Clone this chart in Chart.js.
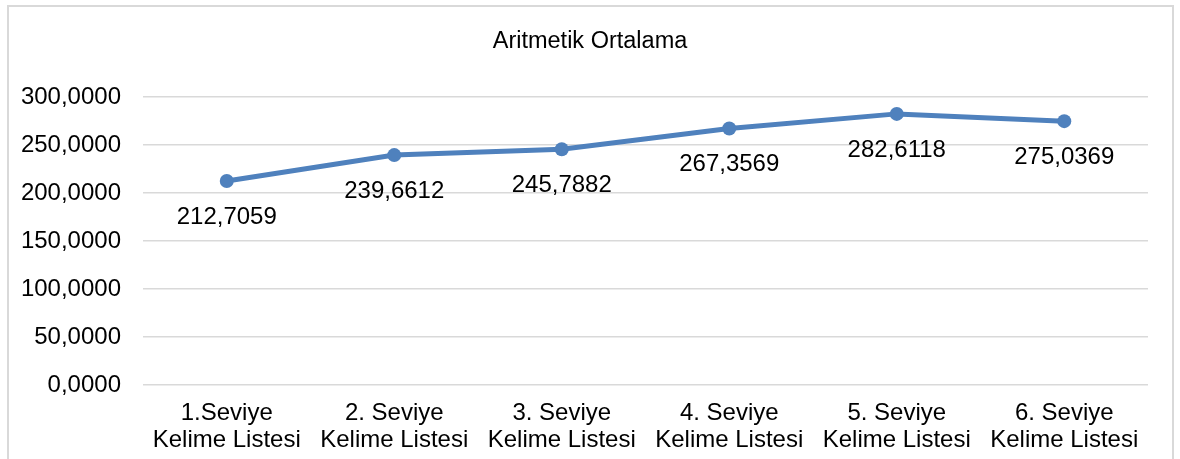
<!DOCTYPE html>
<html>
<head>
<meta charset="utf-8">
<script src="https://cdn.jsdelivr.net/npm/chart.js@4"></script>
<style>
  html, body { margin: 0; padding: 0; background: #fff; }
  #wrap { position: relative; width: 1180px; height: 459px; overflow: hidden; }
  #frame { position: absolute; left: 7px; top: 5px; width: 1167px; height: 470px; border: 2px solid #d9d9d9; box-sizing: border-box; pointer-events: none; }
  canvas { position: absolute; left: 0; top: 0; }
</style>
</head>
<body>
<div id="wrap">
  <canvas id="chart" width="1180" height="459"></canvas>
  <div id="frame"></div>
</div>
<script>
// veri
const categories = [
  ['1.Seviye', 'Kelime Listesi'],
  ['2. Seviye', 'Kelime Listesi'],
  ['3. Seviye', 'Kelime Listesi'],
  ['4. Seviye', 'Kelime Listesi'],
  ['5. Seviye', 'Kelime Listesi'],
  ['6. Seviye', 'Kelime Listesi']
];
const ortalama = [212.7059, 239.6612, 245.7882, 267.3569, 282.6118, 275.0369];
const yTicks = [0, 50, 100, 150, 200, 250, 300];

const FONT = '"Liberation Sans", Arial, sans-serif';
const BLUE = '#4f81bd';

// sayiyi virgullu yaz (212,7059)
function fmt(v) {
  return v.toFixed(4).replace('.', ',');
}

// veri etiketleri, noktanin altinda
const dataLabels = {
  id: 'dataLabels',
  afterDatasetsDraw(chart) {
    const ctx = chart.ctx;
    const meta = chart.getDatasetMeta(0);
    ctx.save();
    ctx.font = '24px ' + FONT;
    ctx.fillStyle = '#000';
    ctx.textAlign = 'center';
    ctx.textBaseline = 'middle';
    meta.data.forEach((pt, i) => {
      ctx.fillText(fmt(ortalama[i]), pt.x, pt.y + 36);
    });
    ctx.restore();
  }
};

new Chart(document.getElementById('chart'), {
  type: 'line',
  data: {
    labels: categories,
    datasets: [{
      label: 'Aritmetik Ortalama',
      data: ortalama,
      borderColor: BLUE,
      backgroundColor: BLUE,
      borderWidth: 5,
      pointRadius: 7,
      pointBackgroundColor: BLUE,
      pointBorderColor: BLUE,
      pointBorderWidth: 0,
      tension: 0
    }]
  },
  options: {
    responsive: false,
    animation: false,
    devicePixelRatio: 1,
    layout: { padding: 0 },
    plugins: {
      legend: { display: false },
      tooltip: { enabled: false },
      title: {
        display: true,
        text: 'Aritmetik Ortalama',
        color: '#000',
        font: { family: FONT, size: 23.5, weight: 'normal' },
        padding: { top: 27, bottom: 42 }
      }
    },
    scales: {
      x: {
        offset: true,
        grid: { display: false, drawTicks: false },
        border: { display: false },
        ticks: {
          color: '#000',
          padding: 15,
          maxRotation: 0,
          autoSkip: false,
          font: { family: FONT, size: 24, lineHeight: 1.13 }
        },
        afterFit(scale) { scale.height = 74; }
      },
      y: {
        min: 0,
        max: 300,
        grid: { color: '#d9d9d9', lineWidth: 1.5, drawTicks: false },
        border: { display: false },
        afterBuildTicks(scale) { scale.ticks = yTicks.map(v => ({ value: v })); },
        ticks: {
          color: '#000',
          padding: 22,
          font: { family: FONT, size: 24 },
          callback: v => fmt(v)
        },
        afterFit(scale) { scale.width = 143; }
      },
      // sag bosluk icin bos eksen
      yBos: {
        position: 'right',
        min: 0,
        max: 300,
        grid: { display: false, drawTicks: false },
        border: { display: false },
        ticks: { display: false },
        afterFit(scale) { scale.width = 32; }
      }
    }
  },
  plugins: [dataLabels]
});
</script>
</body>
</html>
